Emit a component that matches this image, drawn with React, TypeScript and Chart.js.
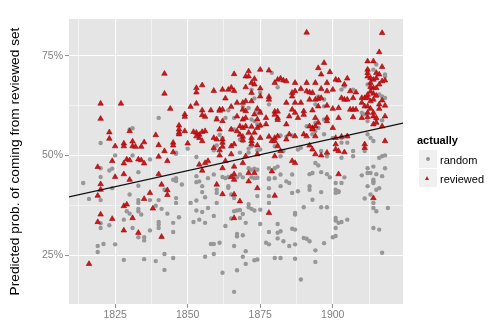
import React, { useEffect, useRef } from 'react';
import { Chart, registerables } from 'chart.js';

Chart.register(...registerables);

// ---- axis definitions ----
const xRange = [1809.1, 1924.2];
const yRange = [12.75, 84.2];
const xMajorTicks = [1825, 1850, 1875, 1900];
const xMinorTicks = [1812.5, 1837.5, 1862.5, 1887.5, 1912.5];
const yMajorTicks = [25, 50, 75];
const yMinorTicks = [37.5, 62.5];

// ---- fitted trend line (start / end) ----
const fitLine: [number, number][] = [
  [1809.1, 39.6],
  [1924.2, 58.1],
];

// ---- series: [year, predicted probability %] ----
const reviewedPoints: [number, number][] = [
  [1842, 70.5], [1842, 65.5], [1844, 61.7], [1820, 63], [1827, 63], [1820, 59.2], [1823, 55.8], [1823, 54.2],
  [1825, 52.3], [1828, 53], [1828, 52.3], [1830, 56.1], [1831, 53.5], [1831, 52.3], [1832, 52.2], [1834, 52.2],
  [1835, 53.3], [1839, 55.1], [1840, 52.6], [1842, 51.1], [1840, 49.7], [1845, 53.2], [1845, 52.5], [1847, 57.5],
  [1847, 55.7], [1847, 55.3], [1845, 50.8], [1829, 49], [1830, 48.8], [1833, 49], [1834, 48.8], [1824, 48.6],
  [1843, 48.6],
  [1866, 70.4], [1871, 71.1], [1875, 71.5], [1878, 71.3], [1870, 69.8], [1871, 69.8], [1873, 69.2], [1881, 69],
  [1882, 69.3], [1883, 68.8], [1884, 68.6], [1880, 68.2], [1853, 66.9], [1855, 67.6], [1853, 65.8], [1859, 66.2],
  [1862, 66.5], [1864, 66.5], [1865, 67], [1866, 66.2], [1870, 67.1], [1872, 68.2], [1873, 67.8], [1875, 66.8],
  [1875, 64.8], [1872, 65.7], [1872, 63.6], [1870, 63.6], [1869, 63.2], [1863, 64.3], [1867, 63.2], [1851, 62.2],
  [1853, 63], [1849, 60.3], [1849, 59.7], [1855, 61.3], [1855, 60.1], [1856, 59.7], [1858, 61.3], [1861, 61.5],
  [1861, 61.2], [1862, 61.5], [1865, 62.2], [1869, 61.5], [1870, 61.1], [1874, 61.7], [1878, 64.7], [1878, 64],
  [1880, 61], [1880, 60.2], [1881, 59.4], [1881, 61], [1881, 58.9], [1884, 63.2], [1885, 59.8], [1884, 57.8],
  [1860, 59], [1862, 58.6], [1867, 59.8], [1869, 59], [1870, 59.4], [1873, 60.3], [1874, 59], [1875, 60.7],
  [1877, 59.4], [1877, 57.8], [1868, 57.3], [1869, 56.9], [1870, 57.3], [1872, 57.2], [1874, 56.9], [1875, 57.5],
  [1861, 56.5], [1865, 56.5], [1867, 56.1], [1871, 55.7], [1847, 56.5], [1849, 56.1], [1852, 55.9], [1853, 55.7],
  [1854, 55.2], [1855, 55.9], [1856, 56.1], [1854, 54.4], [1855, 53.6], [1853, 54.8], [1850, 53], [1859, 54.4],
  [1860, 54], [1862, 54], [1862, 53.2], [1868, 55.2], [1869, 54.7], [1869, 53.8], [1872, 54.4], [1873, 55.7],
  [1875, 54.4], [1878, 54.7], [1880, 54.4], [1879, 53.6], [1881, 54.8], [1884, 54], [1885, 55.3], [1859, 51.9],
  [1861, 51.3], [1862, 52.2], [1865, 52.3], [1866, 52.8], [1872, 53.6], [1872, 52.8], [1874, 52.5], [1880, 53.6],
  [1881, 52.3], [1882, 51.1], [1861, 50], [1865, 50.3], [1870, 49.8], [1874, 50.3], [1880, 49.8], [1857, 48.6],
  [1863, 48.6],
  [1891, 80.8], [1917, 80.7], [1916, 75.9], [1897, 73.2], [1895, 71.9], [1899, 70.9], [1896, 70.3], [1912, 73.6],
  [1914, 73.6], [1912, 71.5], [1912, 70.7], [1917, 72.2], [1913, 69.4], [1914, 69], [1913, 68.2], [1915, 69.4],
  [1914, 66.9], [1915, 66.9], [1916, 67.8], [1917, 68.6], [1918, 68.8], [1915, 70.7], [1916, 70.3], [1901, 69],
  [1902, 68.8], [1905, 69.3], [1904, 67.8], [1887, 68.2], [1891, 68.2], [1894, 68.2], [1898, 68.2], [1889, 66.7],
  [1891, 66.1], [1892, 65.8], [1893, 65.7], [1887, 66.1], [1886, 65.7], [1896, 66.7], [1898, 66.1], [1900, 66.5],
  [1906, 66.1], [1908, 65.8], [1903, 64.4], [1904, 64], [1905, 64], [1907, 64.4], [1892, 64], [1894, 64],
  [1895, 64.2], [1896, 64.4], [1886, 64.8], [1887, 63.2], [1889, 63.2], [1898, 62.5], [1902, 61.9], [1910, 64.4],
  [1911, 64.4], [1912, 64.4], [1913, 63.6], [1914, 64], [1910, 63.2], [1911, 62.3], [1912, 62.3], [1913, 61.7],
  [1916, 62.8], [1918, 62.5], [1916, 61.7], [1886, 61.5], [1887, 60.7], [1888, 59.4], [1890, 61.1], [1890, 60.2],
  [1893, 61.3], [1894, 59.4], [1895, 62.3], [1900, 61.7], [1906, 61.5], [1907, 61.5], [1908, 61.5], [1912, 60.7],
  [1912, 59.6], [1914, 60.7], [1914, 59.8], [1915, 59.4], [1918, 59.8], [1902, 59.4], [1907, 59.6], [1910, 59.4],
  [1898, 59.4], [1892, 57.3], [1893, 56.9], [1893, 56.5], [1894, 57.3], [1895, 58.2], [1898, 58.6], [1900, 56.9],
  [1914, 57.8], [1915, 58.2], [1917, 57.3], [1887, 54.8], [1890, 55.3], [1891, 54.8], [1894, 54.8], [1901, 54.4],
  [1903, 54.7], [1905, 54.8], [1892, 52.5], [1893, 51.5], [1901, 52.8], [1901, 51.5], [1902, 51.1], [1904, 50.8],
  [1894, 50.3], [1896, 50], [1898, 50.7], [1911, 52.8], [1911, 51.9], [1918, 53.6], [1886, 48.6], [1912, 69.8],
  [1913, 67.2], [1914, 65.5], [1915, 65], [1917, 63.8], [1913, 66], [1912, 65.2],
  [1819, 47.1], [1828, 48], [1835, 48], [1828, 45.3], [1825, 44.6], [1830, 43.9], [1820, 42.8], [1820, 41.4],
  [1819, 39.9], [1840, 45.3], [1841, 42.7], [1843, 41.3], [1843, 40.1], [1837, 40.6], [1835, 39.1], [1828, 37.3],
  [1829, 37.7], [1838, 36.7], [1820, 35.2], [1819, 33.3], [1824, 34.1], [1831, 34.3], [1828, 31.2], [1833, 30.6],
  [1841, 29.6], [1816, 22.8],
  [1854, 47.7], [1855, 46.2], [1856, 48.1], [1862, 46.8], [1866, 47.2], [1866, 45.3], [1865, 44.6], [1866, 43.9],
  [1869, 48.1], [1871, 45.6], [1871, 43.5], [1873, 45.6], [1860, 42.7], [1874, 41.8], [1862, 40.3], [1866, 40.2],
  [1868, 38.5], [1879, 46], [1880, 39.9], [1866, 34.3], [1878, 35.6],
  [1887, 48.1], [1902, 45.3], [1914, 39.3],
];

const randomPoints: [number, number][] = [
  [1840, 59.4], [1830, 56.5], [1831, 56.8], [1820, 53.1], [1825, 50], [1831, 50], [1837, 49], [1846, 50.7],
  [1846, 50.4],
  [1879, 70.7], [1881, 67.1], [1872, 66.5], [1875, 65.7], [1873, 64.3], [1878, 62.8], [1864, 61.3], [1869, 62.2],
  [1871, 61.9], [1874, 61], [1875, 61], [1860, 59.4], [1863, 59.4], [1866, 59.4], [1872, 59], [1873, 58.6],
  [1865, 56.5], [1866, 56.5], [1874, 57.8], [1875, 57.3], [1862, 54.4], [1861, 55.2], [1868, 54], [1869, 53.6],
  [1882, 55], [1884, 54.7], [1860, 52.5], [1850, 51.7], [1859, 51.3], [1871, 51.7], [1872, 52.3], [1874, 51.3],
  [1875, 51.5], [1880, 52.3], [1881, 52.5], [1853, 49.6], [1868, 50.7], [1871, 50.7], [1882, 49.8], [1883, 51.1],
  [1903, 66.5], [1904, 67.3], [1907, 66.5], [1912, 71.5], [1914, 71.5], [1915, 72.8], [1918, 70.3], [1918, 69.8],
  [1912, 67.8], [1913, 66.9], [1916, 65.3], [1917, 64.8], [1918, 64.4], [1895, 64.8], [1897, 64], [1894, 62.8],
  [1897, 62.3], [1910, 60.7], [1911, 60.3], [1912, 58.6], [1917, 58.8], [1915, 59], [1891, 57.3], [1894, 58.2],
  [1897, 59], [1895, 56.9], [1894, 56.1], [1897, 55.3], [1893, 55.3], [1912, 55.3], [1913, 54.4], [1914, 53.6],
  [1886, 55], [1889, 51.9], [1900, 54.4], [1903, 54.4], [1905, 54.8], [1888, 51.5], [1903, 53.2], [1905, 53.2],
  [1896, 51.1], [1898, 49.8], [1907, 51.1], [1907, 49.8], [1911, 51.1], [1916, 49.4], [1917, 49.8], [1918, 50],
  [1903, 49.4],
  [1814, 43.1], [1820, 44.6], [1820, 46.8], [1823, 46.2], [1824, 46.7], [1833, 45.8], [1833, 42.4], [1824, 41.8],
  [1816, 39.1], [1820, 38.8], [1830, 40.2], [1833, 38.8], [1833, 38.1], [1837, 38.8], [1839, 37.4], [1840, 38.8],
  [1842, 41.4], [1846, 39.3], [1846, 38.1], [1845, 43.9], [1846, 44.3], [1846, 43.6], [1829, 36], [1830, 35.4],
  [1833, 36.6], [1833, 36], [1834, 35.2], [1841, 36.6], [1843, 35.4], [1847, 34.5], [1840, 33.3], [1840, 32.7],
  [1820, 33], [1820, 31.8], [1823, 32.5], [1828, 33.9], [1831, 31.8], [1837, 31.2], [1840, 31.8], [1845, 33.1],
  [1845, 30.8], [1833, 29.5], [1835, 29.5], [1835, 28.7], [1819, 27.3], [1821, 27.8], [1825, 27.7], [1819, 25.8],
  [1842, 25.3], [1828, 23.8], [1835, 24], [1839, 23.5], [1845, 24.3], [1842, 21.3],
  [1848, 42.7], [1853, 44.8], [1854, 43.5], [1855, 42.3], [1853, 43.3], [1857, 44.3], [1859, 45.2], [1855, 40.8],
  [1856, 39.5], [1851, 38.1], [1853, 38.7], [1862, 44.6], [1863, 44.3], [1864, 44.6], [1866, 44.7], [1867, 44.5],
  [1868, 45.2], [1869, 44.5], [1860, 41.4], [1860, 40.6], [1864, 42.3], [1864, 41.9], [1865, 40.2], [1866, 39.3],
  [1871, 46.8], [1872, 46.4], [1873, 46.7], [1874, 46.4], [1872, 44.5], [1873, 44.3], [1874, 44.4], [1878, 46.8],
  [1880, 46.8], [1881, 47.2], [1882, 45.2], [1878, 44.3], [1878, 44], [1880, 44.3], [1882, 42.3], [1884, 43.5],
  [1885, 43.1], [1878, 41.8], [1878, 39.8], [1878, 38.1], [1874, 39.8], [1871, 37.8], [1871, 37], [1872, 36.6],
  [1873, 36.2], [1875, 36.4], [1867, 36.2], [1868, 36.3], [1866, 36], [1869, 35.3], [1860, 38.1], [1853, 36.2],
  [1855, 35.8], [1857, 36.8], [1852, 33.3], [1854, 33.9], [1856, 33.1], [1859, 34.8], [1863, 32.3], [1865, 34.2],
  [1870, 33.1], [1868, 34.3], [1875, 32.8], [1878, 30.8], [1881, 32.8], [1881, 30.6], [1882, 31], [1881, 29.2],
  [1883, 28.5], [1885, 27.3], [1867, 30.3], [1867, 29.7], [1869, 30], [1858, 27.8], [1859, 27.8], [1861, 28.1],
  [1866, 27.3], [1877, 28.1], [1878, 27.7], [1870, 26], [1856, 24.6], [1859, 25.3], [1869, 24.6], [1870, 22.8],
  [1873, 23.7], [1874, 23.9], [1880, 24.3], [1882, 24.3], [1867, 21.2], [1862, 20.6], [1866, 15.8],
  [1894, 48.1], [1895, 47.5], [1892, 45.3], [1893, 45.6], [1896, 45.8], [1898, 45.3], [1899, 44.5], [1904, 44.5],
  [1903, 43.1], [1901, 43.1], [1910, 45], [1912, 45.6], [1913, 45.6], [1915, 45.3], [1917, 44.8], [1914, 43.9],
  [1914, 43.1], [1914, 43.5], [1912, 42.3], [1916, 41.8], [1915, 41.4], [1912, 46.8], [1914, 47.2], [1918, 46.8],
  [1886, 45.2], [1886, 40.6], [1888, 41], [1892, 42.3], [1892, 41.4], [1893, 38.9], [1896, 40.8], [1901, 41.4],
  [1901, 40.6], [1902, 41], [1902, 40.8], [1890, 37], [1887, 35.6], [1887, 35.2], [1896, 37], [1898, 37],
  [1911, 39.2], [1913, 40.2], [1914, 38.1], [1914, 36.8], [1915, 36], [1919, 36.8], [1901, 34.3], [1901, 33.7],
  [1902, 33.1], [1903, 33.3], [1905, 33.9], [1901, 31.8], [1886, 31.6], [1887, 31.4], [1914, 31.8], [1916, 31.4],
  [1890, 29.3], [1891, 29.1], [1892, 28.5], [1887, 27.7], [1900, 29.5], [1901, 29.8], [1897, 28], [1894, 26.2],
  [1917, 25.6], [1887, 24.1], [1894, 23.3], [1889, 18.9],
];

const seriesLabels = ['random', 'reviewed'];
const legendTitle = 'actually';
const yTitle = 'Predicted prob. of coming from reviewed set';

const FONT = "'Liberation Sans', Arial, Helvetica, sans-serif";
const GREY_PT = '#979797';
const RED_PT = '#d0161c';

const panelBg = {
  id: 'panelBg',
  beforeDraw(chart: any) {
    const { ctx, chartArea } = chart;
    if (!chartArea) return;
    ctx.save();
    ctx.fillStyle = '#E5E5E5';
    ctx.fillRect(chartArea.left, chartArea.top, chartArea.right - chartArea.left, chartArea.bottom - chartArea.top);
    ctx.restore();
  },
};

export default function App() {
  const canvasRef = useRef<HTMLCanvasElement | null>(null);

  useEffect(() => {
    document.body.style.margin = '0';
    const canvas = canvasRef.current;
    if (!canvas) return;
    const xTicks = [...xMinorTicks, ...xMajorTicks].sort((a, b) => a - b);
    const yTicks = [...yMinorTicks, ...yMajorTicks].sort((a, b) => a - b);
    const isXMajor = (v: number) => xMajorTicks.includes(v);
    const isYMajor = (v: number) => yMajorTicks.includes(v);

    const chart = new Chart(canvas, {
      type: 'scatter',
      data: {
        datasets: [
          {
            type: 'line',
            label: 'fit',
            data: fitLine.map(([x, y]) => ({ x, y })),
            borderColor: '#111',
            borderWidth: 1.1,
            pointRadius: 0,
            fill: false,
          } as any,
          {
            label: seriesLabels[1],
            data: reviewedPoints.map(([x, y]) => ({ x, y })),
            pointStyle: 'triangle',
            pointRadius: 3.2,
            backgroundColor: RED_PT,
            borderColor: '#9a0a0a',
            borderWidth: 0.6,
          },
          {
            label: seriesLabels[0],
            data: randomPoints.map(([x, y]) => ({ x, y })),
            pointStyle: 'circle',
            pointRadius: 2.2,
            backgroundColor: GREY_PT,
            borderColor: GREY_PT,
            borderWidth: 0,
          },
        ],
      },
      options: {
        responsive: false,
        animation: false,
        devicePixelRatio: 1,
        layout: { padding: { left: 0, right: 97, top: 19, bottom: 0 } },
        plugins: { legend: { display: false }, tooltip: { enabled: false } },
        scales: {
          x: {
            type: 'linear',
            min: xRange[0],
            max: xRange[1],
            afterBuildTicks: (s: any) => {
              s.ticks = xTicks.map((v) => ({ value: v }));
            },
            afterFit: (s: any) => {
              s.height = 27;
            },
            border: { display: false },
            grid: {
              color: '#ffffff',
              lineWidth: (c: any) => (c.tick && isXMajor(c.tick.value) ? 1.1 : 0.5),
              drawTicks: true,
              tickLength: 4,
              tickWidth: 1,
              tickColor: (c: any) => (c.tick && isXMajor(c.tick.value) ? '#8a8a8a' : 'rgba(0,0,0,0)'),
            },
            ticks: {
              autoSkip: false,
              maxRotation: 0,
              padding: 1,
              color: '#7f7f7f',
              font: { family: FONT, size: 10.5 },
              callback: (v: any) => (isXMajor(Number(v)) ? String(v) : ''),
            },
          },
          y: {
            type: 'linear',
            min: yRange[0],
            max: yRange[1],
            afterBuildTicks: (s: any) => {
              s.ticks = yTicks.map((v) => ({ value: v }));
            },
            afterFit: (s: any) => {
              s.width = 69;
            },
            border: { display: false },
            grid: {
              color: '#ffffff',
              lineWidth: (c: any) => (c.tick && isYMajor(c.tick.value) ? 1.1 : 0.5),
              drawTicks: true,
              tickLength: 4,
              tickWidth: 1,
              tickColor: (c: any) => (c.tick && isYMajor(c.tick.value) ? '#8a8a8a' : 'rgba(0,0,0,0)'),
            },
            ticks: {
              autoSkip: false,
              padding: 2,
              color: '#7f7f7f',
              font: { family: FONT, size: 10.5 },
              callback: (v: any) => (isYMajor(Number(v)) ? `${v}%` : ''),
            },
            title: {
              display: true,
              text: yTitle,
              color: '#000',
              font: { family: FONT, size: 13.7 },
              padding: { top: 7, bottom: 0 },
            },
          },
        },
      },
      plugins: [panelBg],
    } as any);

    return () => {
      chart.destroy();
    };
  }, []);

  const textStyle: React.CSSProperties = {
    position: 'absolute',
    fontFamily: FONT,
    fontSize: 11,
    lineHeight: '11px',
    color: '#000',
    whiteSpace: 'nowrap',
  };
  const keyBox: React.CSSProperties = {
    position: 'absolute',
    left: 419,
    width: 18,
    height: 18,
    background: '#F0F0F0',
  };

  return (
    <div style={{ position: 'relative', width: 500, height: 331, background: '#fff' }}>
      <canvas ref={canvasRef} width={500} height={331} style={{ display: 'block' }} />
      <div style={{ ...textStyle, left: 417, top: 135, fontWeight: 'bold' }}>{legendTitle}</div>
      <div style={{ ...keyBox, top: 150 }}>
        <div
          style={{
            position: 'absolute',
            left: 7,
            top: 7,
            width: 4.4,
            height: 4.4,
            borderRadius: '50%',
            background: GREY_PT,
          }}
        />
      </div>
      <div style={{ ...keyBox, top: 169 }}>
        <div
          style={{
            position: 'absolute',
            left: 6.2,
            top: 6.8,
            width: 0,
            height: 0,
            borderLeft: '2.8px solid transparent',
            borderRight: '2.8px solid transparent',
            borderBottom: `4.6px solid ${RED_PT}`,
          }}
        />
      </div>
      <div style={{ ...textStyle, left: 440, top: 154.5 }}>{seriesLabels[0]}</div>
      <div style={{ ...textStyle, left: 440, top: 174 }}>{seriesLabels[1]}</div>
    </div>
  );
}
